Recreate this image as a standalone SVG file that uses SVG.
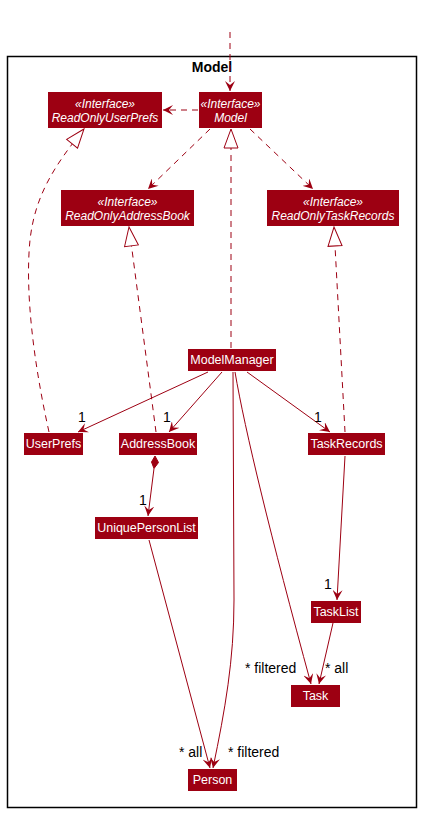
<svg xmlns="http://www.w3.org/2000/svg" width="421" height="813" viewBox="0 0 421 813">
<style>
.n rect{fill:#9D0012;}
.n text{fill:#fff;font-family:"Liberation Sans",Arial,sans-serif;font-size:12.5px;text-anchor:middle;}
.n text.i{font-style:italic;font-size:12px;}
.e{fill:none;stroke:#9D0012;stroke-width:1;}
.d{stroke-dasharray:6,5;}
.lbl{font-family:"Liberation Sans",Arial,sans-serif;font-size:14px;fill:#000;}
</style>
<defs>
<marker id="arr" markerWidth="12" markerHeight="10" refX="10" refY="5" orient="auto" markerUnits="userSpaceOnUse"><path d="M0,0 L10,5 L0,10 L4,5 Z" fill="#9D0012"/></marker>
<marker id="tri" markerWidth="22" markerHeight="16" refX="20" refY="8" orient="auto" markerUnits="userSpaceOnUse"><path d="M1,1 L20,8 L1,15 Z" fill="#fff" stroke="#9D0012" stroke-width="1"/></marker>
</defs>
<rect x="7.5" y="56.5" width="409" height="751" fill="none" stroke="#000" stroke-width="1.5"/>
<text x="212" y="72" font-family="'Liberation Sans',Arial,sans-serif" font-size="14" font-weight="bold" text-anchor="middle">Model</text>
<g id="connectors">
<path class="e d" d="M230,32 L230,91" marker-end="url(#arr)"/>
<path class="e d" d="M198,110 L163,110" marker-end="url(#arr)"/>
<path class="e d" d="M210,129 L148,189" marker-end="url(#arr)"/>
<path class="e d" d="M250,129 L313,189" marker-end="url(#arr)"/>
<path class="e d" d="M231,348 L231,129" marker-end="url(#tri)"/>
<path class="e d" d="M49,432 C33,360 25,290 30,240 C35,195 55,165 84,129" marker-end="url(#tri)"/>
<path class="e d" d="M156,432 L129,227" marker-end="url(#tri)"/>
<path class="e d" d="M345,432 L334,227" marker-end="url(#tri)"/>
<path class="e" d="M208,372 L78,432" marker-end="url(#arr)"/>
<path class="e" d="M222,372 L169,432" marker-end="url(#arr)"/>
<path class="e" d="M247,372 L330,432" marker-end="url(#arr)"/>
<polygon points="155,456 151.5,462 154,468.5 158.5,462.5" fill="#9D0012" stroke="#9D0012"/>
<path class="e" d="M154,468.5 L148,516" marker-end="url(#arr)"/>
<path class="e" d="M233,372 L234,600 C234,660 225,710 213,768" marker-end="url(#arr)"/>
<path class="e" d="M149,540 L210,768" marker-end="url(#arr)"/>
<path class="e" d="M235,372 Q250,460 311,684" marker-end="url(#arr)"/>
<path class="e" d="M345,456 L337,600" marker-end="url(#arr)"/>
<path class="e" d="M333,623 L319,684" marker-end="url(#arr)"/>
<text class="lbl" x="82" y="422" text-anchor="middle">1</text>
<text class="lbl" x="167" y="422" text-anchor="middle">1</text>
<text class="lbl" x="318" y="422" text-anchor="middle">1</text>
<text class="lbl" x="143" y="505" text-anchor="middle">1</text>
<text class="lbl" x="328" y="589" text-anchor="middle">1</text>
<text class="lbl" x="245" y="673">* filtered</text>
<text class="lbl" x="325" y="673">* all</text>
<text class="lbl" x="179" y="757">* all</text>
<text class="lbl" x="228" y="757">* filtered</text>
</g>
<g id="ReadOnlyUserPrefs" class="n"><rect x="48" y="92" width="114" height="36"/><text class="i" x="105" y="108">«Interface»</text><text class="i" x="105" y="122">ReadOnlyUserPrefs</text></g>
<g id="ModelIf" class="n"><rect x="199" y="92" width="63" height="36"/><text class="i" x="230.5" y="108">«Interface»</text><text class="i" x="230.5" y="122">Model</text></g>
<g id="ReadOnlyAddressBook" class="n"><rect x="61" y="190" width="133" height="36"/><text class="i" x="127.5" y="206">«Interface»</text><text class="i" x="127.5" y="220">ReadOnlyAddressBook</text></g>
<g id="ReadOnlyTaskRecords" class="n"><rect x="267" y="190" width="132" height="36"/><text class="i" x="333" y="206">«Interface»</text><text class="i" x="333" y="220">ReadOnlyTaskRecords</text></g>
<g id="ModelManager" class="n"><rect x="188" y="349" width="88" height="22"/><text x="232" y="364">ModelManager</text></g>
<g id="UserPrefs" class="n"><rect x="24" y="433" width="59" height="22"/><text x="53.5" y="448">UserPrefs</text></g>
<g id="AddressBook" class="n"><rect x="119" y="433" width="78" height="22"/><text x="158" y="448">AddressBook</text></g>
<g id="TaskRecords" class="n"><rect x="308" y="433" width="77" height="22"/><text x="346.5" y="448">TaskRecords</text></g>
<g id="UniquePersonList" class="n"><rect x="95" y="517" width="103" height="22"/><text x="146.5" y="532">UniquePersonList</text></g>
<g id="TaskList" class="n"><rect x="311" y="601" width="50" height="22"/><text x="336" y="616">TaskList</text></g>
<g id="Task" class="n"><rect x="291" y="685" width="49" height="22"/><text x="315.5" y="700">Task</text></g>
<g id="Person" class="n"><rect x="188" y="769" width="49" height="22"/><text x="212.5" y="784">Person</text></g>
</svg>
